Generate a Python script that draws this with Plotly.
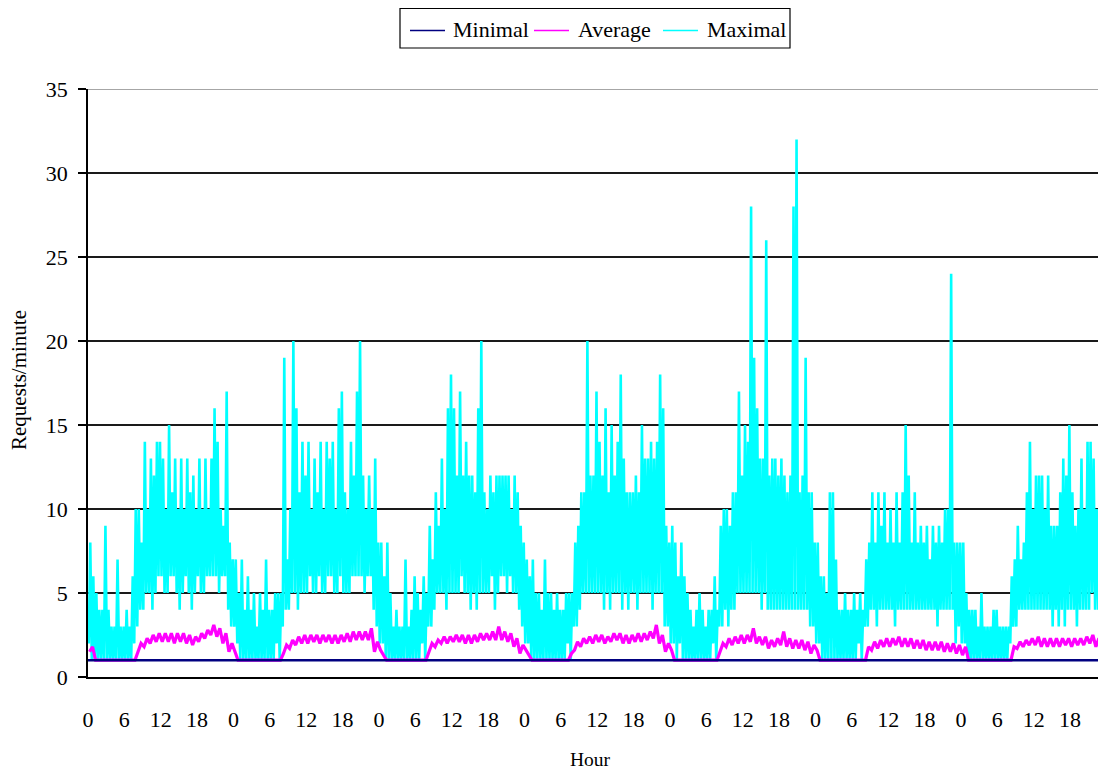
import plotly.graph_objects as go

# Requests per minute over one week, sampled every 15 minutes for the
# per-minute maximum and every 30 minutes for the average.
# Each inner list holds the four quarter-hour samples of one hour (0..23).
MAX_DAY1 = [[2, 8, 1, 6], [1, 5, 1, 4], [1, 4, 1, 9], [1, 4, 1, 3], [1, 3, 1, 7], [1, 3, 1, 3],
            [1, 4, 1, 3], [1, 6, 2, 10], [3, 10, 4, 8], [4, 14, 5, 10], [5, 13, 4, 12], [5, 14, 6, 14],
            [6, 13, 5, 10], [5, 15, 6, 11], [6, 13, 5, 10], [4, 13, 5, 10], [6, 13, 5, 11], [4, 12, 5, 10],
            [6, 13, 5, 10], [5, 13, 6, 10], [6, 13, 6, 16], [6, 14, 5, 10], [6, 9, 6, 17], [4, 8, 3, 7]]
MAX_DAY2 = [[3, 7, 2, 5], [1, 7, 1, 4], [1, 6, 1, 4], [1, 5, 1, 3], [1, 5, 1, 4], [1, 7, 1, 4],
            [1, 4, 1, 5], [2, 5, 1, 5], [3, 19, 4, 7], [4, 10, 5, 20], [5, 16, 4, 11], [5, 14, 5, 12],
            [5, 14, 6, 10], [5, 13, 5, 11], [6, 14, 5, 10], [5, 14, 6, 13], [6, 14, 5, 10], [5, 16, 6, 17],
            [5, 11, 5, 10], [5, 14, 6, 12], [6, 17, 6, 20], [6, 12, 5, 10], [6, 12, 6, 10], [4, 13, 3, 8]]
MAX_DAY3 = [[2, 8, 2, 6], [1, 8, 1, 5], [1, 3, 1, 4], [1, 3, 1, 3], [1, 7, 1, 3], [1, 4, 1, 6],
            [1, 5, 1, 4], [2, 6, 1, 5], [3, 9, 3, 7], [4, 11, 5, 9], [5, 13, 5, 10], [4, 16, 5, 18],
            [5, 16, 5, 12], [5, 17, 6, 12], [5, 14, 5, 12], [4, 12, 5, 11], [4, 16, 5, 20], [5, 11, 5, 10],
            [5, 12, 6, 11], [4, 12, 5, 12], [6, 12, 6, 12], [5, 12, 6, 10], [5, 12, 5, 11], [4, 9, 3, 8]]
MAX_DAY4 = [[2, 7, 2, 6], [1, 7, 1, 5], [1, 5, 1, 4], [1, 7, 1, 5], [1, 5, 1, 4], [1, 5, 1, 4],
            [1, 4, 1, 5], [2, 5, 1, 5], [3, 8, 3, 9], [4, 11, 5, 11], [5, 20, 5, 12], [5, 12, 5, 17],
            [5, 14, 5, 12], [4, 16, 5, 11], [4, 15, 5, 12], [5, 14, 5, 18], [4, 13, 5, 11], [4, 11, 5, 11],
            [5, 12, 4, 11], [5, 15, 5, 13], [5, 13, 5, 14], [4, 13, 5, 14], [5, 18, 5, 16], [3, 9, 3, 8]]
MAX_DAY5 = [[2, 9, 2, 8], [1, 6, 2, 8], [1, 6, 1, 5], [1, 4, 1, 3], [1, 4, 1, 5], [1, 4, 1, 3],
            [1, 4, 1, 4], [2, 6, 1, 4], [3, 9, 3, 10], [4, 10, 3, 9], [4, 11, 4, 11], [5, 17, 5, 12],
            [5, 15, 5, 14], [5, 28, 5, 19], [5, 16, 5, 13], [4, 13, 5, 26], [4, 12, 4, 13], [4, 13, 4, 12],
            [4, 13, 4, 12], [4, 11, 4, 12], [4, 28, 4, 32], [4, 11, 4, 12], [4, 19, 4, 11], [3, 11, 3, 8]]
MAX_DAY6 = [[2, 8, 2, 6], [1, 6, 1, 5], [1, 11, 1, 11], [1, 7, 1, 4], [1, 4, 1, 5], [1, 4, 1, 4],
            [1, 5, 1, 4], [2, 5, 1, 4], [3, 7, 3, 8], [4, 11, 4, 8], [3, 11, 4, 9], [4, 11, 4, 8],
            [4, 10, 4, 8], [3, 11, 4, 8], [4, 11, 4, 15], [4, 12, 4, 8], [4, 11, 4, 8], [4, 9, 4, 8],
            [4, 9, 4, 7], [4, 9, 4, 8], [3, 9, 4, 8], [4, 10, 4, 10], [4, 24, 4, 8], [2, 8, 3, 8]]
MAX_DAY7 = [[2, 8, 2, 5], [1, 4, 1, 4], [1, 4, 1, 3], [1, 5, 1, 3], [1, 3, 1, 3], [1, 4, 1, 4],
            [1, 3, 1, 3], [1, 3, 1, 3], [2, 6, 3, 7], [3, 9, 4, 7], [4, 8, 4, 11], [4, 14, 4, 10],
            [4, 12, 4, 12], [4, 12, 4, 10], [4, 12, 4, 9], [3, 9, 4, 9], [3, 11, 4, 13], [3, 12, 4, 15],
            [4, 11, 4, 9], [3, 10, 4, 13], [4, 10, 4, 14], [4, 14, 5, 13], [4, 10, 4, 10], [4, 9, 4, 8]]

# Half-hour samples of the average, one pair per hour (0..23).
AVG_DAY1 = [[1.5, 1.8], [1.0, 1.0], [1.0, 1.0], [1.0, 1.0], [1.0, 1.0], [1.0, 1.0],
            [1.0, 1.0], [1.0, 1.0], [1.5, 2.0], [1.8, 2.3], [2.0, 2.5], [2.1, 2.6],
            [2.1, 2.6], [2.1, 2.6], [2.0, 2.6], [2.1, 2.6], [2.0, 2.5], [1.9, 2.4],
            [2.1, 2.6], [2.3, 2.8], [2.5, 3.1], [2.4, 2.9], [2.0, 2.6], [1.5, 2.0]]
AVG_DAY2 = [[1.5, 1.0], [1.0, 1.0], [1.0, 1.0], [1.0, 1.0], [1.0, 1.0], [1.0, 1.0],
            [1.0, 1.0], [1.0, 1.0], [1.4, 1.9], [1.7, 2.2], [1.9, 2.4], [2.0, 2.5],
            [2.0, 2.5], [2.1, 2.5], [2.0, 2.5], [2.1, 2.5], [2.0, 2.5], [2.0, 2.5],
            [2.1, 2.6], [2.1, 2.7], [2.2, 2.7], [2.2, 2.7], [2.2, 2.9], [1.5, 2.1]]
AVG_DAY3 = [[1.6, 1.3], [1.0, 1.0], [1.0, 1.0], [1.0, 1.0], [1.0, 1.0], [1.0, 1.0],
            [1.0, 1.0], [1.0, 1.0], [1.5, 2.0], [1.8, 2.2], [2.0, 2.4], [2.0, 2.4],
            [2.1, 2.5], [2.1, 2.5], [2.0, 2.5], [2.0, 2.5], [2.1, 2.6], [2.2, 2.6],
            [2.2, 2.7], [2.2, 3.0], [2.2, 2.7], [2.1, 2.6], [1.8, 2.3], [1.4, 1.9]]
AVG_DAY4 = [[1.6, 1.3], [1.0, 1.0], [1.0, 1.0], [1.0, 1.0], [1.0, 1.0], [1.0, 1.0],
            [1.0, 1.0], [1.0, 1.4], [1.6, 2.1], [1.8, 2.3], [2.0, 2.4], [2.0, 2.5],
            [2.1, 2.5], [2.0, 2.4], [2.1, 2.6], [2.2, 2.6], [2.0, 2.5], [2.0, 2.5],
            [2.1, 2.6], [2.1, 2.6], [2.2, 2.7], [2.3, 3.1], [2.0, 2.5], [1.5, 2.0]]
AVG_DAY5 = [[1.6, 1.0], [1.0, 1.0], [1.0, 1.0], [1.0, 1.0], [1.0, 1.0], [1.0, 1.0],
            [1.0, 1.0], [1.0, 1.0], [1.5, 2.0], [1.8, 2.3], [1.9, 2.4], [2.0, 2.5],
            [2.0, 2.5], [2.1, 2.9], [2.0, 2.4], [1.9, 2.4], [1.7, 2.2], [1.8, 2.3],
            [1.9, 2.7], [1.8, 2.3], [1.7, 2.2], [1.7, 2.2], [1.6, 2.1], [1.4, 1.9]]
AVG_DAY6 = [[1.6, 1.0], [1.0, 1.0], [1.0, 1.0], [1.0, 1.0], [1.0, 1.0], [1.0, 1.0],
            [1.0, 1.0], [1.0, 1.0], [1.0, 1.8], [1.6, 2.1], [1.7, 2.2], [1.8, 2.3],
            [1.8, 2.3], [1.9, 2.4], [1.8, 2.3], [1.8, 2.3], [1.7, 2.2], [1.7, 2.2],
            [1.6, 2.1], [1.6, 2.1], [1.6, 2.1], [1.5, 2.0], [1.5, 2.0], [1.4, 1.9]]
AVG_DAY7 = [[1.3, 1.8], [1.0, 1.0], [1.0, 1.0], [1.0, 1.0], [1.0, 1.0], [1.0, 1.0],
            [1.0, 1.0], [1.0, 1.0], [1.0, 1.8], [1.7, 2.1], [1.8, 2.2], [1.9, 2.3],
            [1.9, 2.4], [1.8, 2.3], [1.8, 2.3], [1.8, 2.3], [1.8, 2.3], [1.9, 2.3],
            [1.8, 2.3], [1.9, 2.3], [1.9, 2.4], [2.0, 2.5], [1.8, 2.3], [1.8, 2.2]]

# Hourly minimum, one row per day.
MIN_DAY1 = [1, 1, 1, 1, 1, 1, 1, 1, 1, 1, 1, 1, 1, 1, 1, 1, 1, 1, 1, 1, 1, 1, 1, 1]
MIN_DAY2 = [1, 1, 1, 1, 1, 1, 1, 1, 1, 1, 1, 1, 1, 1, 1, 1, 1, 1, 1, 1, 1, 1, 1, 1]
MIN_DAY3 = [1, 1, 1, 1, 1, 1, 1, 1, 1, 1, 1, 1, 1, 1, 1, 1, 1, 1, 1, 1, 1, 1, 1, 1]
MIN_DAY4 = [1, 1, 1, 1, 1, 1, 1, 1, 1, 1, 1, 1, 1, 1, 1, 1, 1, 1, 1, 1, 1, 1, 1, 1]
MIN_DAY5 = [1, 1, 1, 1, 1, 1, 1, 1, 1, 1, 1, 1, 1, 1, 1, 1, 1, 1, 1, 1, 1, 1, 1, 1]
MIN_DAY6 = [1, 1, 1, 1, 1, 1, 1, 1, 1, 1, 1, 1, 1, 1, 1, 1, 1, 1, 1, 1, 1, 1, 1, 1]
MIN_DAY7 = [1, 1, 1, 1, 1, 1, 1, 1, 1, 1, 1, 1, 1, 1, 1, 1, 1, 1, 1, 1, 1, 1, 1, 1]

HOUR_LABELS = ["0", "6", "12", "18"]
SERIES_NAMES = ["Minimal", "Average", "Maximal"]
SERIES_COLORS = ["#000080", "#FF00FF", "#00FFFF"]

MAX_DAYS = [MAX_DAY1, MAX_DAY2, MAX_DAY3, MAX_DAY4, MAX_DAY5, MAX_DAY6, MAX_DAY7]
AVG_DAYS = [AVG_DAY1, AVG_DAY2, AVG_DAY3, AVG_DAY4, AVG_DAY5, AVG_DAY6, AVG_DAY7]
MIN_DAYS = [MIN_DAY1, MIN_DAY2, MIN_DAY3, MIN_DAY4, MIN_DAY5, MIN_DAY6, MIN_DAY7]

W, H = 1098, 774
M_L, M_R, M_T, M_B = 88, 0, 89, 97
PLOT_W = W - M_L - M_R
PLOT_H = H - M_T - M_B


def flatten(days):
    """Turn per-day, per-hour sample groups into (hour, value) pairs."""
    xs, ys = [], []
    for d, day in enumerate(days):
        for h, samples in enumerate(day):
            n = len(samples)
            for k, v in enumerate(samples):
                xs.append(d * 24 + h + (k + 0.5) / n)
                ys.append(v)
    return xs, ys


def px_x(px):
    return (px - M_L) / PLOT_W


def px_y(py):
    return (H - M_B - py) / PLOT_H


x_max, y_max = flatten(MAX_DAYS)
x_avg, y_avg = flatten(AVG_DAYS)
x_min, y_min = [], []
for d, day in enumerate(MIN_DAYS):
    for h, v in enumerate(day):
        x_min.append(d * 24 + h)
        y_min.append(v)
x_min.append(len(MIN_DAYS) * 24)
y_min.append(MIN_DAYS[-1][-1])

FONT = "Liberation Serif, Times New Roman, serif"

fig = go.Figure()
fig.add_trace(go.Scatter(x=x_max, y=y_max, mode="lines", name=SERIES_NAMES[2], showlegend=False,
                         line=dict(color=SERIES_COLORS[2], width=2.6), hoverinfo="skip"))
fig.add_trace(go.Scatter(x=x_avg, y=y_avg, mode="lines", name=SERIES_NAMES[1], showlegend=False,
                         line=dict(color=SERIES_COLORS[1], width=3.2), hoverinfo="skip"))
fig.add_trace(go.Scatter(x=x_min, y=y_min, mode="lines", name=SERIES_NAMES[0], showlegend=False,
                         line=dict(color=SERIES_COLORS[0], width=2.6), hoverinfo="skip"))

n_days = len(MAX_DAYS)
tickvals = [d * 24 + h * 6 for d in range(n_days) for h in range(4)]
ticktext = HOUR_LABELS * n_days

fig.update_xaxes(
    range=[0, 166.6], tickmode="array", tickvals=tickvals, ticktext=ticktext,
    showgrid=False, zeroline=False, showline=True, linecolor="black", linewidth=1.5,
    ticks="", ticklabelstandoff=22, tickfont=dict(family=FONT, size=22, color="black"),
)
fig.update_yaxes(
    range=[0, 35], dtick=5, tick0=0, showgrid=True, gridcolor="#1a1a1a", gridwidth=1.5,
    zeroline=False, showline=True, linecolor="black", linewidth=1.5,
    ticks="outside", ticklen=8, tickwidth=1.5, tickcolor="black", ticklabelstandoff=6,
    tickfont=dict(family=FONT, size=22, color="black"),
)

fig.add_shape(type="line", xref="paper", yref="y", x0=0, x1=1, y0=35, y1=35,
              line=dict(color="#888888", width=1.5))

# Boxed legend above the plot
fig.add_shape(type="rect", xref="paper", yref="paper",
              x0=px_x(400), x1=px_x(790), y0=px_y(48), y1=px_y(8.5),
              line=dict(color="black", width=1.2), fillcolor="white", layer="above")
legend_items = [(410, 451), (534, 576), (663, 705)]
for (lx, tx), name, color in zip(legend_items, SERIES_NAMES, SERIES_COLORS):
    fig.add_shape(type="line", xref="paper", yref="paper",
                  x0=px_x(lx), x1=px_x(lx + 35), y0=px_y(30.5), y1=px_y(30.5),
                  line=dict(color=color, width=1.6), layer="above")
    fig.add_annotation(text=name, xref="paper", yref="paper", x=px_x(tx), y=px_y(29),
                       xanchor="left", yanchor="middle", showarrow=False,
                       font=dict(family=FONT, size=22, color="black"))

fig.add_annotation(text="Requests/minute", textangle=-90, xref="paper", yref="paper",
                   x=px_x(19), y=px_y(380), xanchor="center", yanchor="middle", showarrow=False,
                   font=dict(family=FONT, size=21, color="black"))
fig.add_annotation(text="Hour", xref="paper", yref="paper", x=px_x(590), y=px_y(760),
                   xanchor="center", yanchor="middle", showarrow=False,
                   font=dict(family=FONT, size=19.5, color="black"))

fig.update_layout(
    width=W, height=H,
    margin=dict(l=M_L, r=M_R, t=M_T, b=M_B),
    paper_bgcolor="white", plot_bgcolor="white",
    font=dict(family=FONT, size=22, color="black"),
    showlegend=False,
)

fig.write_html("out.html")
